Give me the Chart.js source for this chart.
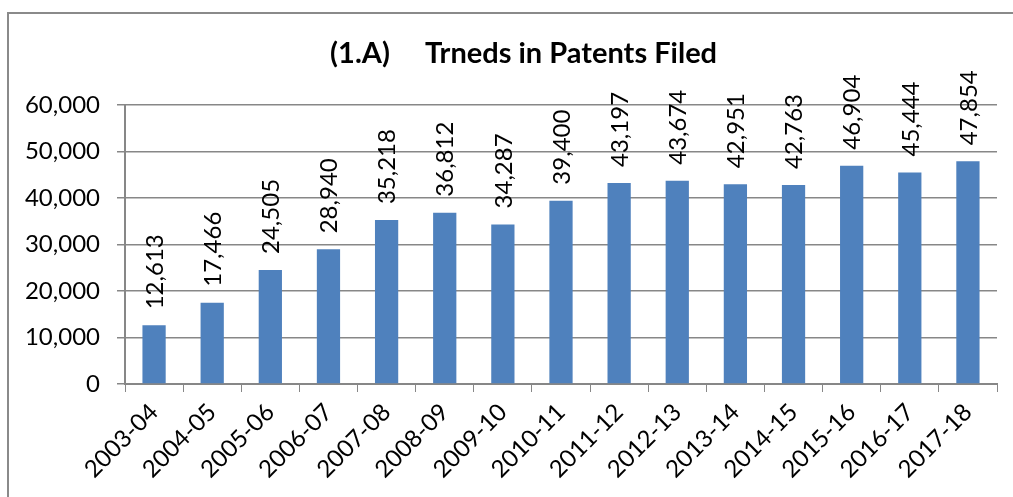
<!DOCTYPE html>
<html>
<head>
<meta charset="utf-8">
<script src="https://cdn.jsdelivr.net/npm/chart.js@4.4.0/dist/chart.umd.min.js"></script>
<style>
  html, body { margin: 0; padding: 0; background: #fff; }
  #wrap { width: 1013px; height: 497px; }
</style>
</head>
<body>
<div id="wrap"><canvas id="patentChart" width="1013" height="497"></canvas></div>
<script>
// TRENDS IN PATENTS FILED

const years = ["2003-04", "2004-05", "2005-06", "2006-07", "2007-08", "2008-09", "2009-10",
  "2010-11", "2011-12", "2012-13", "2013-14", "2014-15", "2015-16", "2016-17", "2017-18"];
const patentsFiled = [12613, 17466, 24505, 28940, 35218, 36812, 34287, 39400,
  43197, 43674, 42951, 42763, 46904, 45444, 47854];
const yTicks = [0, 10000, 20000, 30000, 40000, 50000, 60000];

const FONT = "Lato";
const fmt = (v) => v.toLocaleString("en-US");

// box around the whole chart (right/bottom edges are off-page in the original)
const frame = {
  id: "frame",
  beforeDraw(chart) {
    const ctx = chart.ctx;
    ctx.save();
    ctx.strokeStyle = "#8a8a8a";
    ctx.lineWidth = 2;
    ctx.strokeRect(8, 13, 1030, 520);
    ctx.restore();
  },
};

// vertical value labels above each bar
const barLabels = {
  id: "barLabels",
  afterDatasetsDraw(chart) {
    const ctx = chart.ctx;
    const meta = chart.getDatasetMeta(0);
    ctx.save();
    ctx.font = "24px " + FONT;
    ctx.fillStyle = "#000";
    ctx.textAlign = "left";
    ctx.textBaseline = "middle";
    meta.data.forEach((bar, i) => {
      ctx.save();
      ctx.translate(bar.x + 1, bar.y - 16);
      ctx.rotate(-Math.PI / 2);
      ctx.fillText(fmt(patentsFiled[i]), 0, 0);
      ctx.restore();
    });
    ctx.restore();
  },
};

const ctx = document.getElementById("patentChart");

new Chart(ctx, {
  type: "bar",
  data: {
    labels: years,
    datasets: [
      {
        label: "Patents Filed",
        data: patentsFiled,
        backgroundColor: "#4f81bd",
        borderWidth: 0,
        barPercentage: 0.4,
        categoryPercentage: 1,
      },
    ],
  },
  options: {
    responsive: false,
    animation: false,
    events: [],
    layout: { padding: { left: 22, right: 16, top: 13, bottom: 0 } },
    plugins: {
      legend: { display: false },
      tooltip: { enabled: false },
      title: {
        display: true,
        // leading spaces nudge the centred title right, as in the original
        text: "    (1.A)     Trneds in Patents Filed",
        color: "#000",
        font: { family: FONT, size: 29, weight: "bold" },
        padding: { top: 23, bottom: 34 },
      },
    },
    scales: {
      x: {
        afterFit(scale) { scale.height = 113; },
        grid: {
          offset: true,
          drawOnChartArea: false,
          color: "#878787",
          tickLength: 8,
          tickColor: "#878787",
        },
        border: { color: "#878787", width: 2 },
        ticks: {
          color: "#000",
          font: { family: FONT, size: 24 },
          minRotation: 45,
          maxRotation: 45,
          autoSkip: false,
          padding: 6,
        },
      },
      y: {
        min: 0,
        max: 60000,
        afterFit(scale) { scale.width = 103; },
        afterBuildTicks(scale) { scale.ticks = yTicks.map((v) => ({ value: v })); },
        grid: { color: "#878787", tickLength: 8, lineWidth: 1.5 },
        border: { color: "#878787", width: 2 },
        ticks: {
          color: "#000",
          font: { family: FONT, size: 24 },
          padding: 17,
          callback: (v) => fmt(v),
        },
      },
    },
  },
  plugins: [frame, barLabels],
});
</script>
</body>
</html>
